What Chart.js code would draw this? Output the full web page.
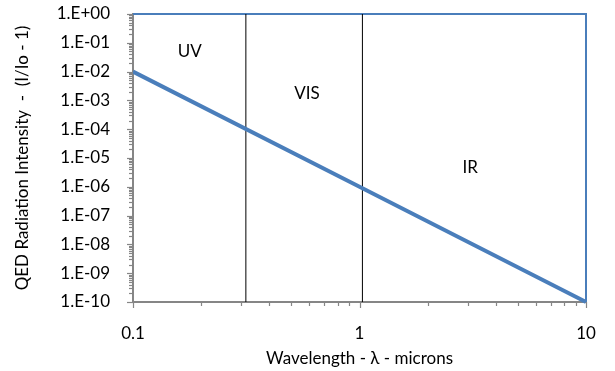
<!DOCTYPE html>
<html>
<head>
<meta charset="utf-8">
<script src="https://cdn.jsdelivr.net/npm/chart.js@4/dist/chart.umd.min.js"></script>
<style>
html,body{margin:0;padding:0;background:#fff;}
#wrap{width:615px;height:371px;position:relative;}
</style>
</head>
<body>
<div id="wrap"><canvas id="c" width="615" height="371"></canvas></div>
<script>
// ---- data ----
const wavelength = [0.1, 1, 10];             // microns
const intensity = [1e-2, 1e-6, 1e-10];       // I/Io - 1
const bandEdges = [0.315, 1.03];             // UV|VIS and VIS|IR boundaries
const bandNames = ['UV', 'VIS', 'IR'];
const bandLabelX = [0.178, 0.586, 3.08];
const bandLabelY = [0.048, 0.0018, 4.5e-6];
const xRange = [0.1, 10];
const yRange = [1e-10, 1];
const yTickExponents = [0, -1, -2, -3, -4, -5, -6, -7, -8, -9, -10];
const xTickValues = [0.1, 1, 10];

const FONT = 'Lato, "Open Sans", sans-serif';
const BLUE = '#4A7EBB';
const AXIS = '#868686';

const datasets = [
  {
    label: 'QED',
    data: wavelength.map((x, i) => ({x, y: intensity[i]})),
    borderColor: BLUE, borderWidth: 4, pointRadius: 0, order: 0, clip: 3
  },
  {
    label: 'frame',
    data: [{x: xRange[0], y: yRange[1]}, {x: xRange[1], y: yRange[1]}, {x: xRange[1], y: yRange[0]}],
    borderColor: BLUE, borderWidth: 2, pointRadius: 0, order: 2, clip: 4
  }
];
bandEdges.forEach(e => datasets.push({
  label: 'edge',
  data: [{x: e, y: yRange[0]}, {x: e, y: yRange[1]}],
  borderColor: '#000', borderWidth: 1, pointRadius: 0, order: 1
}));

function fmtExp(v) {
  const e = Math.round(Math.log10(v));
  const s = e < 0 ? '-' : '+';
  return '1.E' + s + String(Math.abs(e)).padStart(2, '0');
}

const tickPlugin = {
  id: 'logTicks',
  afterDraw(chart) {
    const ctx = chart.ctx, xs = chart.scales.x, ys = chart.scales.y;
    ctx.save();
    ctx.strokeStyle = AXIS;
    ctx.lineWidth = 1.2;
    const y0 = ys.bottom;
    for (let d = -1; d <= 1; d++) {
      for (let k = 1; k <= 9; k++) {
        const v = k * Math.pow(10, d);
        if (v > xRange[1] + 1e-9) break;
        const px = Math.round(xs.getPixelForValue(v)) + 0.5;
        const len = k === 1 ? 6 : 4;
        ctx.beginPath(); ctx.moveTo(px, y0); ctx.lineTo(px, y0 + len); ctx.stroke();
      }
    }
    const x0 = xs.left;
    for (let d = -10; d <= 0; d++) {
      for (let k = 1; k <= 9; k++) {
        const v = k * Math.pow(10, d);
        if (v > yRange[1] * 1.0001) break;
        const py = Math.round(ys.getPixelForValue(v)) + 0.5;
        const len = k === 1 ? 6 : 4;
        ctx.beginPath(); ctx.moveTo(x0, py); ctx.lineTo(x0 - len, py); ctx.stroke();
      }
    }
    // band labels
    ctx.fillStyle = '#000';
    ctx.font = '17px ' + FONT;
    ctx.textAlign = 'center';
    ctx.textBaseline = 'middle';
    bandNames.forEach((n, i) => {
      ctx.fillText(n, xs.getPixelForValue(bandLabelX[i]), ys.getPixelForValue(bandLabelY[i]));
    });
    ctx.restore();
  }
};

new Chart(document.getElementById('c'), {
  type: 'line',
  data: { datasets },
  plugins: [tickPlugin],
  options: {
    responsive: false,
    animation: false,
    layout: { padding: { top: 14, right: 29, left: 0, bottom: 0 } },
    plugins: { legend: { display: false }, tooltip: { enabled: false } },
    scales: {
      x: {
        type: 'logarithmic', min: xRange[0], max: xRange[1],
        afterBuildTicks: s => { s.ticks = xTickValues.map(v => ({value: v})); },
        afterFit: s => { s.height = 69; s.paddingLeft = 0; s.paddingRight = 0; },
        grid: { display: false, drawTicks: false },
        border: { display: true, color: AXIS, width: 2 },
        ticks: { color: '#000', font: { family: FONT, size: 17 }, padding: 21, maxRotation: 0, autoSkip: false,
          callback: v => String(v) },
        title: { display: true, text: 'Wavelength - \u03BB - microns', color: '#000',
          font: { family: FONT, size: 17 }, padding: { top: 0, bottom: 2 } }
      },
      y: {
        type: 'logarithmic', min: yRange[0], max: yRange[1],
        afterBuildTicks: s => { s.ticks = yTickExponents.map(e => ({value: Math.pow(10, e)})); },
        afterFit: s => { s.width = 133; s.paddingTop = 0; s.paddingBottom = 0; },
        grid: { display: false, drawTicks: false },
        border: { display: true, color: AXIS, width: 2 },
        ticks: { color: '#000', font: { family: FONT, size: 17 }, padding: 23, autoSkip: false,
          callback: v => fmtExp(v) },
        title: { display: true, text: 'QED Radiation Intensity  -  (I/Io - 1)', color: '#000',
          font: { family: FONT, size: 17 }, padding: { top: 12, bottom: 0 } }
      }
    }
  }
});
</script>
</body>
</html>
